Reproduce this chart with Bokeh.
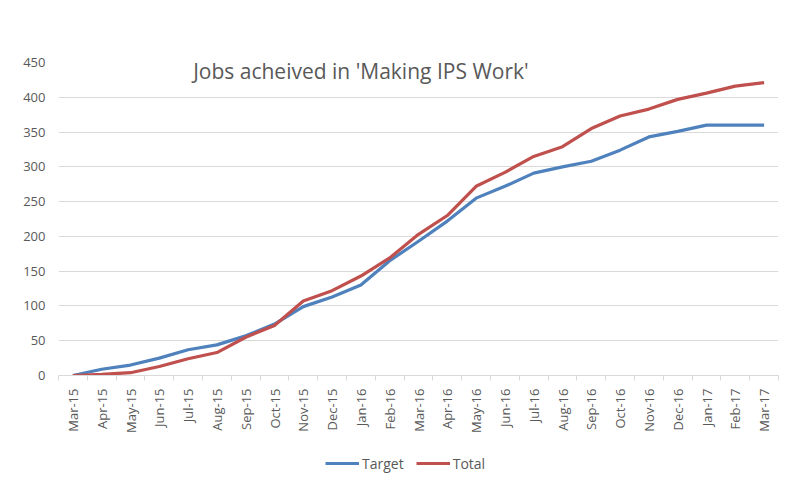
from bokeh.plotting import figure
from bokeh.models import FixedTicker, Legend, LegendItem, Label
from bokeh.layouts import column
from bokeh.embed import file_html
from bokeh.resources import INLINE
import math

months = ["Mar-15", "Apr-15", "May-15", "Jun-15", "Jul-15", "Aug-15", "Sep-15",
          "Oct-15", "Nov-15", "Dec-15", "Jan-16", "Feb-16", "Mar-16", "Apr-16",
          "May-16", "Jun-16", "Jul-16", "Aug-16", "Sep-16", "Oct-16", "Nov-16",
          "Dec-16", "Jan-17", "Feb-17", "Mar-17"]
target = [0, 9, 15, 25, 37, 44, 57, 74, 99, 113, 130, 165, 193, 222,
          255, 272, 291, 300, 308, 324, 343, 351, 360, 360, 360]
total = [0, 1.5, 4, 13, 24, 33, 55, 72, 107, 122, 143, 169, 203, 230,
         272, 292, 315, 329, 355, 373, 383, 397, 406, 416, 421]
series_names = ["Target", "Total"]
y_ticks = [0, 50, 100, 150, 200, 250, 300, 350, 400, 450]
title_text = "Jobs acheived in 'Making IPS Work'"

idx = list(range(len(months)))
FONT = "Open Sans"
TXT = "#595959"
GRID = "#d9d9d9"
COLORS = ["#4F81BD", "#C0504D"]

p = figure(width=786, height=440, output_backend="svg", toolbar_location=None,
           x_range=(-0.5, len(months) - 0.5), y_range=(0, y_ticks[-1]),
           min_border_left=58, min_border_right=8, min_border_top=62,
           min_border_bottom=65)
p.outline_line_color = None
p.background_fill_color = "white"
p.border_fill_color = "white"

# y axis
p.yaxis.ticker = FixedTicker(ticks=y_ticks)
p.yaxis.axis_line_color = None
p.yaxis.major_tick_line_color = None
p.yaxis.minor_tick_line_color = None
p.yaxis.major_label_text_font = FONT
p.yaxis.major_label_text_font_size = "13px"
p.yaxis.major_label_text_color = TXT
p.yaxis.major_label_standoff = 7
p.ygrid.ticker = FixedTicker(ticks=y_ticks)
p.ygrid.grid_line_color = GRID
p.ygrid.grid_line_width = 1

# x axis
p.xaxis.ticker = FixedTicker(ticks=idx, minor_ticks=[i - 0.5 for i in idx] + [idx[-1] + 0.5])
p.xaxis.major_label_overrides = {i: m for i, m in zip(idx, months)}
p.xaxis.major_label_orientation = math.pi / 2
p.xaxis.major_label_text_font = FONT
p.xaxis.major_label_text_font_size = "13px"
p.xaxis.major_label_text_color = TXT
p.xaxis.major_label_standoff = 8
p.xaxis.axis_line_color = GRID
p.xaxis.major_tick_line_color = None
p.xaxis.major_tick_out = 0
p.xaxis.major_tick_in = 0
p.xaxis.minor_tick_line_color = GRID
p.xaxis.minor_tick_out = 5
p.xaxis.minor_tick_in = 0
p.xgrid.grid_line_color = None

series = [target, total]
for vals, c in zip(series, COLORS):
    p.line(idx, vals, line_color=c, line_width=3.2, line_join="round")

p.add_layout(Label(x=10.0, y=438, text=title_text, text_align="center",
                   text_baseline="middle", text_font=FONT, text_font_size="21px",
                   text_color=TXT))

# legend strip below the chart (its series lie outside this strip's ranges)
p2 = figure(width=786, height=44, output_backend="svg", toolbar_location=None,
            x_range=(-0.5, len(months) - 0.5), y_range=(-20, -10),
            x_axis_location=None, y_axis_location=None, min_border=0)
p2.outline_line_color = None
p2.grid.grid_line_color = None
items = []
for name, vals, c in zip(series_names, series, COLORS):
    r = p2.line(idx, vals, line_color=c, line_width=3.2)
    items.append(LegendItem(label=name, renderers=[r]))
legend = Legend(items=items, orientation="horizontal", location=(267, 11),
                padding=0, margin=0, spacing=12, glyph_width=34, glyph_height=20,
                label_standoff=3, label_text_font=FONT, label_text_font_size="14px",
                label_text_color=TXT, background_fill_alpha=0, border_line_color=None)
p2.add_layout(legend, "center")

open("out.html", "w").write(file_html(column(p, p2, spacing=0), INLINE))
